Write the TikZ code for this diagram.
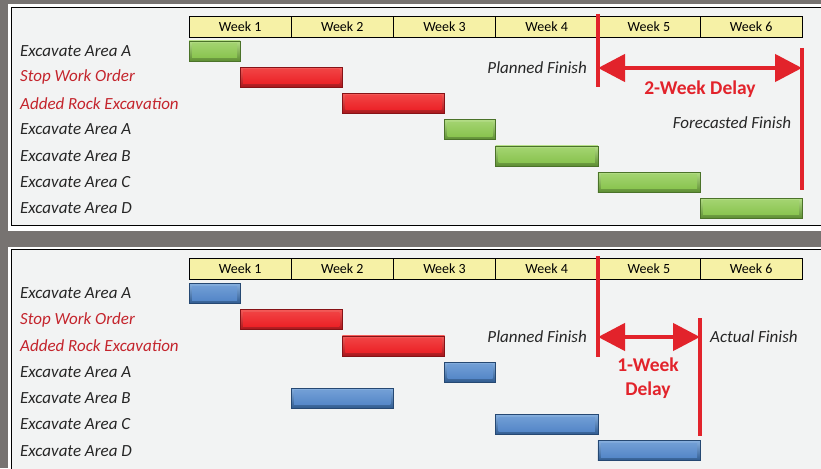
\documentclass[tikz,border=0pt]{standalone}
\usepackage{fontspec}
\setmainfont{Carlito}
\usetikzlibrary{arrows.meta}

\definecolor{fundo}{HTML}{777371}
\definecolor{painel}{HTML}{F2F3F3}
\definecolor{amarelo}{HTML}{F6F1A6}
\definecolor{texto}{HTML}{262626}
\definecolor{textoverm}{HTML}{C4242C}
\definecolor{linhaverm}{HTML}{E2232B}
\definecolor{verdeluz}{HTML}{B4DE86}
\definecolor{verde}{HTML}{8AC450}
\definecolor{verdeesc}{HTML}{5E8E33}
\definecolor{vermluz}{HTML}{F45A58}
\definecolor{verm}{HTML}{EC2227}
\definecolor{vermesc}{HTML}{A8161B}
\definecolor{azulluz}{HTML}{86AFDF}
\definecolor{azul}{HTML}{5587C8}
\definecolor{azulesc}{HTML}{2F5A8F}

\tikzset{
  semana/.style={draw=black, fill=amarelo, line width=0.8pt, minimum width=102.2pt,
    minimum height=21pt, inner sep=0pt, font=\fontsize{14}{14}\selectfont},
  tarefa/.style={anchor=west, inner sep=0pt, font=\itshape\fontsize{17}{18}\selectfont},
  rotulo verde/.style={text=texto},
  rotulo azul/.style={text=texto},
  rotulo verm/.style={text=textoverm},
  % borda chanfrada (fora) e miolo da barra
  barra/.style={draw=#1esc!80!black, line width=0.5pt, top color=#1luz, bottom color=#1esc},
  miolo/.style={top color=#1luz!55!#1, bottom color=#1},
  marco/.style={linhaverm, line width=4pt},
  atraso/.style={linhaverm, line width=4.5pt,
    {Triangle[length=27pt,width=27pt]}-{Triangle[length=27pt,width=27pt]}},
  nota/.style={inner sep=0pt, text=texto, font=\itshape\fontsize{17}{18}\selectfont},
  destaque/.style={inner sep=0pt, text=linhaverm, align=center,
    font=\bfseries\fontsize{19.5}{24}\selectfont},
}

\begin{document}
\begin{tikzpicture}[x=1pt, y=-1pt]
  % Fundo cinza e recorte da figura
  \clip (0,0) rectangle (821,468);
  \fill[fundo] (0,0) rectangle (821,468);

  % Paineis e cabecalho das semanas
  \foreach \p/\dy/\base in {1/0/225, 2/242.5/490} {
    \fill[white] (8,{4+\dy}) rectangle (830,{\base+6});
    \filldraw[fill=painel, line width=0.8pt] (11,{7+\dy}) rectangle (835,\base);
    \foreach \s in {1,...,6}
      \node[semana] (sem\p-\s) at ({189+102.2*(\s-0.5)},{26.5+\dy}) {Week \s};
  }

  % Painel de cima: inicio/fim (em semanas), cor, tarefa
  \foreach \ini/\fim/\tipo/\nome [count=\i] in {0/0.5/verde/{Excavate Area A},
      0.5/1.5/verm/{Stop Work Order}, 1.5/2.5/verm/{Added Rock Excavation},
      2.5/3/verde/{Excavate Area A}, 3/4/verde/{Excavate Area B},
      4/5/verde/{Excavate Area C}, 5/6/verde/{Excavate Area D}} {
    \draw[barra=\tipo] ({189+102.2*\ini},{41+26.2*(\i-1)}) rectangle ({189+102.2*\fim},{61+26.2*(\i-1)});
    \shade[miolo=\tipo] ({192+102.2*\ini},{43.5+26.2*(\i-1)}) rectangle ({186+102.2*\fim},{57.5+26.2*(\i-1)});
    \node[tarefa, rotulo \tipo] (ta\i) at (20,{51+26.2*(\i-1)}) {\nome};
  }

  % Painel de baixo: mesma lista, barras azuis
  \foreach \ini/\fim/\tipo/\nome [count=\i] in {0/0.5/azul/{Excavate Area A},
      0.5/1.5/verm/{Stop Work Order}, 1.5/2.5/verm/{Added Rock Excavation},
      2.5/3/azul/{Excavate Area A}, 1/2/azul/{Excavate Area B},
      3/4/azul/{Excavate Area C}, 4/5/azul/{Excavate Area D}} {
    \draw[barra=\tipo] ({189+102.2*\ini},{283.5+26.2*(\i-1)}) rectangle ({189+102.2*\fim},{303.5+26.2*(\i-1)});
    \shade[miolo=\tipo] ({192+102.2*\ini},{286+26.2*(\i-1)}) rectangle ({186+102.2*\fim},{300+26.2*(\i-1)});
    \node[tarefa, rotulo \tipo] (tb\i) at (20,{293.5+26.2*(\i-1)}) {\nome};
  }

  % Marcos de termino e setas de atraso (2 semanas)
  \draw[marco] (598,14) -- (598,87);
  \draw[marco] (802,48) -- (802,190);
  \coordinate (prev1) at (598,68);
  \coordinate (fim1) at (802,68);
  \draw[atraso] (prev1) -- (fim1);
  \node[nota, anchor=east] (plan1) at (587,68) {Planned Finish};
  \node[destaque] (atr1) at (700,89) {2-Week Delay};
  \node[nota] (fcst1) at (732,123) {Forecasted Finish};

  % Marcos de termino e seta de atraso (1 semana)
  \draw[marco] (598,256) -- (598,357);
  \draw[marco] (700,318) -- (700,436);
  \coordinate (prev2) at (598,337);
  \coordinate (fim2) at (700,337);
  \draw[atraso] (prev2) -- (fim2);
  \node[nota, anchor=east] (plan2) at (587,337) {Planned Finish};
  \node[nota, anchor=west] (real2) at (710,337) {Actual Finish};
  \node[destaque] (atr2) at (648,378) {1-Week\\Delay};
\end{tikzpicture}
\end{document}
